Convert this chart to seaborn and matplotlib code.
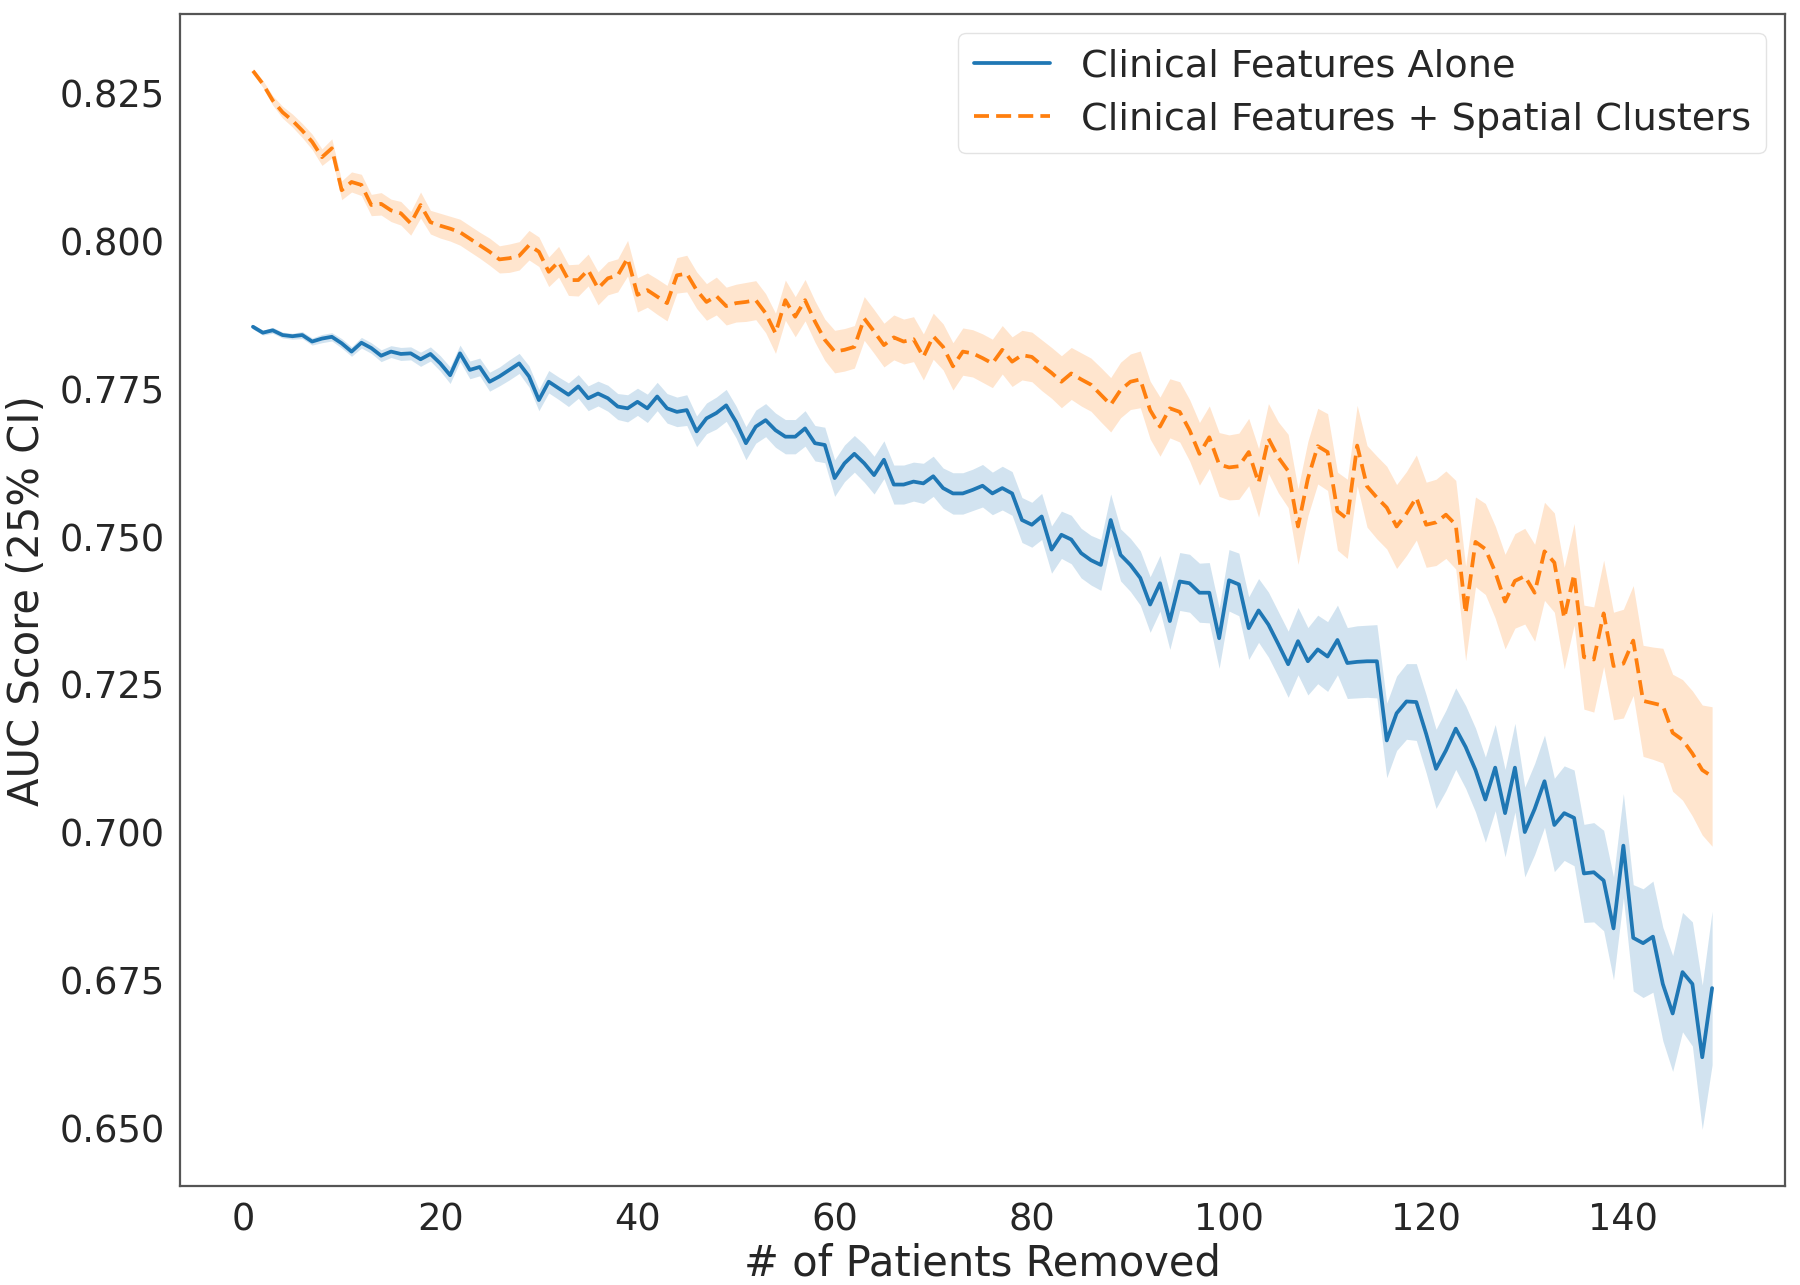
import numpy as np
import pandas as pd
import matplotlib
matplotlib.use("Agg")
import matplotlib.pyplot as plt
import seaborn as sns

# ---------------- data ----------------
patients_removed = list(range(1, 150))

clinical_alone = [
    0.7855, 0.7845, 0.7849, 0.7841, 0.7839, 0.7841, 0.7830, 0.7835, 0.7838, 0.7827,
    0.7813, 0.7828, 0.7819, 0.7806, 0.7813, 0.7809, 0.7810, 0.7800, 0.7809, 0.7793,
    0.7773, 0.7810, 0.7782, 0.7787, 0.7762, 0.7771, 0.7782, 0.7793, 0.7771, 0.7731,
    0.7762, 0.7751, 0.7740, 0.7754, 0.7734, 0.7742, 0.7734, 0.7720, 0.7717, 0.7728,
    0.7717, 0.7737, 0.7717, 0.7711, 0.7714, 0.7678, 0.7700, 0.7709, 0.7722, 0.7694,
    0.7658, 0.7686, 0.7697, 0.7680, 0.7669, 0.7669, 0.7683, 0.7658, 0.7655, 0.7599,
    0.7624, 0.7640, 0.7624, 0.7604, 0.7630, 0.7588, 0.7588, 0.7593, 0.7590, 0.7602,
    0.7582, 0.7573, 0.7573, 0.7579, 0.7586, 0.7573, 0.7582, 0.7573, 0.7528, 0.7520,
    0.7534, 0.7478, 0.7503, 0.7495, 0.7472, 0.7460, 0.7452, 0.7528, 0.7469, 0.7452,
    0.7430, 0.7385, 0.7421, 0.7357, 0.7424, 0.7421, 0.7405, 0.7405, 0.7328, 0.7426,
    0.7419, 0.7345, 0.7375, 0.7351, 0.7318, 0.7284, 0.7323, 0.7289, 0.7309, 0.7297,
    0.7325, 0.7286, 0.7288, 0.7289, 0.7289, 0.7155, 0.7201, 0.7221, 0.7220, 0.7166,
    0.7107, 0.7138, 0.7175, 0.7144, 0.7105, 0.7055, 0.7109, 0.7032, 0.7109, 0.7000,
    0.7039, 0.7086, 0.7012, 0.7032, 0.7024, 0.6930, 0.6932, 0.6918, 0.6837, 0.6977,
    0.6821, 0.6812, 0.6823, 0.6743, 0.6693, 0.6763, 0.6743, 0.6619, 0.6736,
]

clinical_alone_ci = [
    0.0004, 0.0004, 0.0005, 0.0005, 0.0005, 0.0006, 0.0006, 0.0007, 0.0007, 0.0008,
    0.0008, 0.0009, 0.0009, 0.0010, 0.0010, 0.0011, 0.0011, 0.0012, 0.0012, 0.0013,
    0.0014, 0.0014, 0.0015, 0.0015, 0.0016, 0.0016, 0.0017, 0.0017, 0.0018, 0.0018,
    0.0019, 0.0019, 0.0020, 0.0020, 0.0021, 0.0021, 0.0022, 0.0022, 0.0023, 0.0023,
    0.0024, 0.0024, 0.0025, 0.0025, 0.0026, 0.0026, 0.0026, 0.0027, 0.0027, 0.0027,
    0.0028, 0.0028, 0.0028, 0.0029, 0.0029, 0.0029, 0.0030, 0.0030, 0.0030, 0.0031,
    0.0031, 0.0031, 0.0032, 0.0032, 0.0032, 0.0033, 0.0033, 0.0033, 0.0034, 0.0034,
    0.0034, 0.0035, 0.0035, 0.0035, 0.0036, 0.0036, 0.0037, 0.0037, 0.0038, 0.0038,
    0.0039, 0.0040, 0.0040, 0.0041, 0.0042, 0.0042, 0.0043, 0.0044, 0.0044, 0.0045,
    0.0046, 0.0047, 0.0047, 0.0048, 0.0049, 0.0049, 0.0050, 0.0051, 0.0051, 0.0052,
    0.0053, 0.0053, 0.0054, 0.0055, 0.0055, 0.0056, 0.0057, 0.0057, 0.0058, 0.0059,
    0.0059, 0.0060, 0.0061, 0.0061, 0.0062, 0.0063, 0.0063, 0.0064, 0.0065, 0.0066,
    0.0067, 0.0068, 0.0069, 0.0070, 0.0071, 0.0072, 0.0073, 0.0074, 0.0075, 0.0076,
    0.0077, 0.0078, 0.0079, 0.0080, 0.0081, 0.0083, 0.0084, 0.0085, 0.0087, 0.0088,
    0.0090, 0.0092, 0.0094, 0.0096, 0.0098, 0.0101, 0.0105, 0.0122, 0.0130,
]

clinical_spatial = [
    0.8288, 0.8266, 0.8238, 0.8218, 0.8204, 0.8187, 0.8168, 0.8142, 0.8157, 0.8086,
    0.8100, 0.8095, 0.8061, 0.8063, 0.8052, 0.8047, 0.8030, 0.8061, 0.8032, 0.8026,
    0.8021, 0.8015, 0.8004, 0.7993, 0.7982, 0.7969, 0.7971, 0.7975, 0.7993, 0.7982,
    0.7948, 0.7965, 0.7934, 0.7934, 0.7951, 0.7920, 0.7937, 0.7942, 0.7971, 0.7909,
    0.7917, 0.7906, 0.7895, 0.7942, 0.7945, 0.7917, 0.7897, 0.7907, 0.7890, 0.7895,
    0.7897, 0.7900, 0.7878, 0.7844, 0.7900, 0.7872, 0.7900, 0.7864, 0.7833, 0.7813,
    0.7816, 0.7821, 0.7869, 0.7847, 0.7824, 0.7837, 0.7830, 0.7834, 0.7804, 0.7839,
    0.7821, 0.7788, 0.7813, 0.7810, 0.7802, 0.7793, 0.7816, 0.7796, 0.7807, 0.7804,
    0.7790, 0.7777, 0.7762, 0.7776, 0.7766, 0.7757, 0.7740, 0.7723, 0.7748, 0.7762,
    0.7766, 0.7714, 0.7686, 0.7717, 0.7711, 0.7680, 0.7640, 0.7668, 0.7622, 0.7617,
    0.7619, 0.7643, 0.7591, 0.7666, 0.7634, 0.7611, 0.7517, 0.7598, 0.7653, 0.7643,
    0.7543, 0.7530, 0.7654, 0.7585, 0.7566, 0.7549, 0.7517, 0.7539, 0.7566, 0.7520,
    0.7524, 0.7537, 0.7520, 0.7370, 0.7491, 0.7479, 0.7440, 0.7390, 0.7425, 0.7433,
    0.7405, 0.7475, 0.7456, 0.7362, 0.7436, 0.7296, 0.7292, 0.7370, 0.7281, 0.7285,
    0.7324, 0.7222, 0.7218, 0.7214, 0.7168, 0.7156, 0.7133, 0.7105, 0.7094,
]

clinical_spatial_ci = [
    0.0004, 0.0006, 0.0008, 0.0010, 0.0011, 0.0012, 0.0013, 0.0014, 0.0016, 0.0016,
    0.0017, 0.0018, 0.0018, 0.0019, 0.0019, 0.0020, 0.0020, 0.0022, 0.0020, 0.0021,
    0.0021, 0.0022, 0.0022, 0.0022, 0.0023, 0.0023, 0.0024, 0.0024, 0.0025, 0.0025,
    0.0025, 0.0026, 0.0026, 0.0027, 0.0027, 0.0028, 0.0028, 0.0028, 0.0030, 0.0029,
    0.0029, 0.0030, 0.0030, 0.0030, 0.0031, 0.0031, 0.0031, 0.0032, 0.0032, 0.0032,
    0.0033, 0.0033, 0.0033, 0.0034, 0.0034, 0.0034, 0.0035, 0.0035, 0.0035, 0.0036,
    0.0036, 0.0036, 0.0037, 0.0037, 0.0037, 0.0038, 0.0038, 0.0038, 0.0039, 0.0039,
    0.0039, 0.0040, 0.0040, 0.0040, 0.0041, 0.0041, 0.0041, 0.0042, 0.0042, 0.0042,
    0.0043, 0.0043, 0.0044, 0.0044, 0.0045, 0.0045, 0.0046, 0.0046, 0.0047, 0.0047,
    0.0048, 0.0049, 0.0050, 0.0050, 0.0051, 0.0052, 0.0053, 0.0053, 0.0054, 0.0055,
    0.0056, 0.0057, 0.0058, 0.0059, 0.0060, 0.0062, 0.0064, 0.0063, 0.0064, 0.0065,
    0.0066, 0.0067, 0.0068, 0.0069, 0.0070, 0.0070, 0.0071, 0.0071, 0.0072, 0.0072,
    0.0073, 0.0074, 0.0075, 0.0080, 0.0076, 0.0077, 0.0078, 0.0080, 0.0080, 0.0081,
    0.0082, 0.0083, 0.0084, 0.0086, 0.0086, 0.0088, 0.0089, 0.0090, 0.0091, 0.0092,
    0.0093, 0.0094, 0.0095, 0.0097, 0.0099, 0.0102, 0.0106, 0.0110, 0.0118,
]

series_names = ["Clinical Features Alone", "Clinical Features + Spatial Clusters"]
series_colors = ["#1f77b4", "#ff7f0e"]

# ---------------- plot ----------------
sns.set_style("white")
plt.rcParams["font.family"] = ["DejaVu Sans"]

df = pd.concat([
    pd.DataFrame({"x": patients_removed, "auc": clinical_alone, "ci": clinical_alone_ci,
                  "model": series_names[0]}),
    pd.DataFrame({"x": patients_removed, "auc": clinical_spatial, "ci": clinical_spatial_ci,
                  "model": series_names[1]}),
], ignore_index=True)

fig = plt.figure(figsize=(18, 12.85), dpi=100)
ax = fig.add_axes([0.100, 0.077, 0.8917, 0.912])

palette = dict(zip(series_names, series_colors))
sns.lineplot(data=df, x="x", y="auc", hue="model", style="model",
             hue_order=series_names, style_order=series_names,
             palette=palette, errorbar=None, linewidth=2.7, ax=ax,
             dashes={series_names[0]: "", series_names[1]: (4, 1.9)})

for name in series_names:
    sub = df[df["model"] == name]
    ax.fill_between(sub["x"], sub["auc"] - sub["ci"], sub["auc"] + sub["ci"],
                    color=palette[name], alpha=0.2, linewidth=0)

ax.set_xlim(-6.4, 156.4)
ax.set_ylim(0.6401, 0.8384)
ax.set_xticks([0, 20, 40, 60, 80, 100, 120, 140])
ax.set_yticks([0.650, 0.675, 0.700, 0.725, 0.750, 0.775, 0.800, 0.825])
ax.set_yticklabels([f"{v:.3f}" for v in ax.get_yticks()])

ax.set_xlabel("# of Patients Removed", fontsize=30, color="#262626", labelpad=3)
ax.set_ylabel("AUC Score (25% CI)", fontsize=30, color="#262626", labelpad=8)
ax.tick_params(axis="both", labelsize=26.5, colors="#262626", length=0, pad=11)

for sp in ax.spines.values():
    sp.set_visible(True)
    sp.set_color("#555555")
    sp.set_linewidth(1.6)

handles, labels = ax.get_legend_handles_labels()
pairs = [(h, l) for h, l in zip(handles, labels) if l in series_names]
leg = ax.legend([p[0] for p in pairs], [p[1] for p in pairs], loc="upper right",
                fontsize=27.5, frameon=True, fancybox=True, framealpha=0.8,
                edgecolor="#dddddd", handlelength=2.0, borderpad=0.4,
                labelspacing=0.45)
for line in leg.get_lines():
    line.set_linewidth(2.7)

fig.savefig("out.png", dpi=100)
